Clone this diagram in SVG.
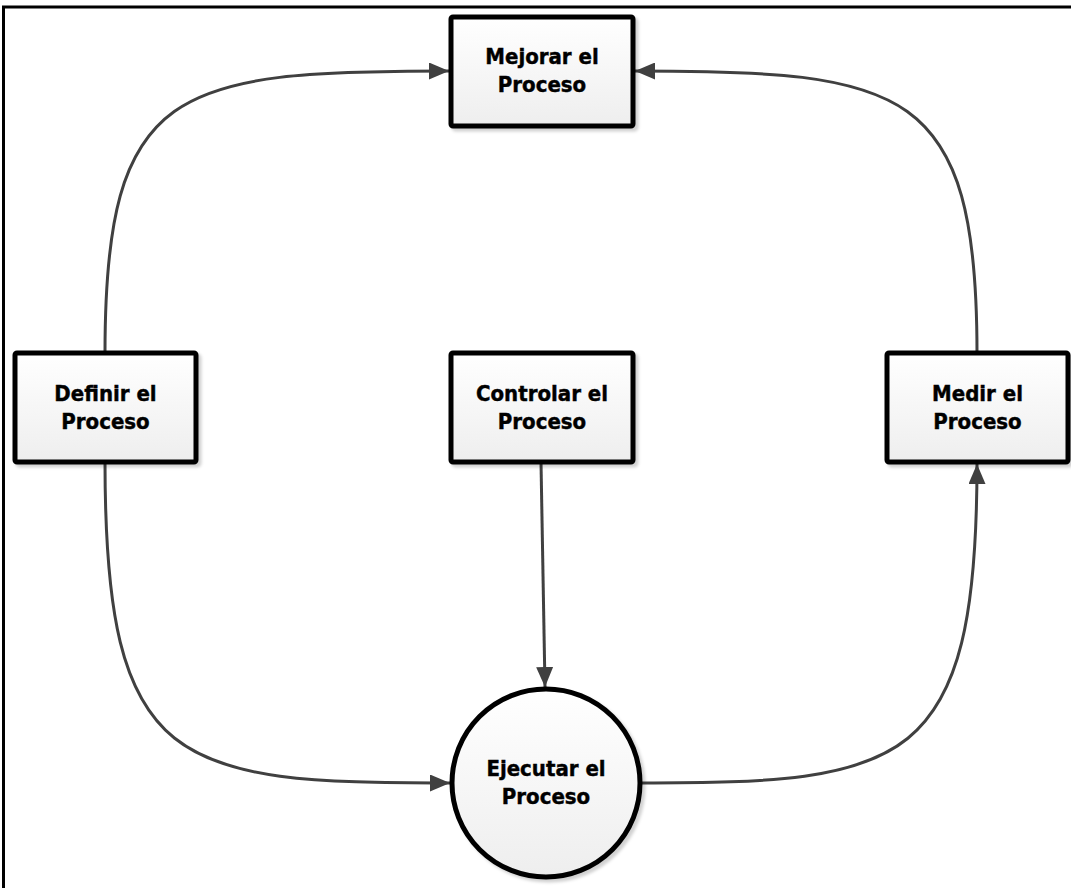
<svg xmlns="http://www.w3.org/2000/svg" width="1071" height="888" viewBox="0 0 1071 888">
<style>
.box{fill:url(#g);stroke:#000;stroke-width:5;filter:url(#sh)}
.lbl{font-family:"DejaVu Sans Condensed","DejaVu Sans",sans-serif;font-stretch:condensed;font-weight:bold;font-size:22px;fill:#000;stroke:#000;stroke-width:0.4;text-anchor:middle}
.con{fill:none;stroke:#404040;stroke-width:3}
</style>
<defs>
<linearGradient id="g" x1="0" y1="0" x2="0" y2="1">
<stop offset="0" stop-color="#ffffff"/>
<stop offset="1" stop-color="#eeeeee"/>
</linearGradient>
<filter id="sh" x="-10%" y="-10%" width="125%" height="125%">
<feDropShadow dx="3" dy="3" stdDeviation="1.5" flood-color="#000" flood-opacity="0.18"/>
</filter>
<marker id="ah" viewBox="0 0 20 17" refX="20" refY="8.5" markerWidth="20" markerHeight="17" markerUnits="userSpaceOnUse" orient="auto">
<path d="M0,0 L20,8.5 L0,17 Z" fill="#404040"/>
</marker>
</defs>
<rect x="0" y="0" width="1071" height="888" fill="#fff"/>
<rect x="3.5" y="7" width="1080" height="900" fill="none" stroke="#000" stroke-width="3"/>
<g id="connectors">
<path class="con" d="M105,353 C105,85 175,71 449,71" marker-end="url(#ah)"/>
<path class="con" d="M977,353 C977,85 905,71 635,71" marker-end="url(#ah)"/>
<path class="con" d="M105,462 C105,770 175,783 450,783" marker-end="url(#ah)"/>
<path class="con" d="M640,783 C905,783 977,770 977,464" marker-end="url(#ah)"/>
<path class="con" d="M541,462 L545,687" marker-end="url(#ah)"/>
</g>
<g id="mejorar">
<rect class="box" x="451" y="17" width="182" height="109" rx="2"/>
<text class="lbl" x="542" y="64">Mejorar el</text>
<text class="lbl" x="542" y="92">Proceso</text>
</g>
<g id="definir">
<rect class="box" x="15" y="353" width="181" height="109" rx="2"/>
<text class="lbl" x="105.5" y="401">Definir el</text>
<text class="lbl" x="105.5" y="429">Proceso</text>
</g>
<g id="controlar">
<rect class="box" x="451" y="353" width="182" height="109" rx="2"/>
<text class="lbl" x="542" y="401">Controlar el</text>
<text class="lbl" x="542" y="429">Proceso</text>
</g>
<g id="medir">
<rect class="box" x="887" y="353" width="181" height="109" rx="2"/>
<text class="lbl" x="977.5" y="401">Medir el</text>
<text class="lbl" x="977.5" y="429">Proceso</text>
</g>
<g id="ejecutar">
<circle class="box" cx="546" cy="783" r="94"/>
<text class="lbl" x="546" y="776">Ejecutar el</text>
<text class="lbl" x="546" y="804">Proceso</text>
</g>
</svg>
